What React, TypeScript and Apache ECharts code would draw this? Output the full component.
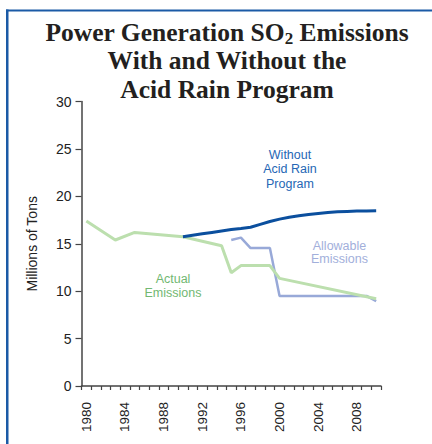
import React, { useEffect, useRef } from "react";
import * as echarts from "echarts";

const years = [
  "1980", "1981", "1982", "1983", "1984", "1985", "1986", "1987", "1988", "1989",
  "1990", "1991", "1992", "1993", "1994", "1995", "1996", "1997", "1998", "1999",
  "2000", "2001", "2002", "2003", "2004", "2005", "2006", "2007", "2008", "2009", "2010",
];

const actualEmissions = [
  17.4, null, null, 15.4, null, 16.2, null, null, null, null,
  15.75, null, null, null, 14.8, 11.95, 12.7, null, null, 12.7,
  11.35, null, null, null, null, null, null, null, null, null, 9.2,
];

const withoutProgram = [
  null, null, null, null, null, null, null, null, null, null,
  15.75, 15.9, 16.05, 16.2, 16.35, 16.5, 16.62, 16.75, 17.05, 17.35,
  17.6, 17.8, 17.95, 18.1, 18.2, 18.3, 18.38, 18.42, 18.45, 18.47, 18.48,
];

const allowableEmissions = [
  null, null, null, null, null, null, null, null, null, null,
  null, null, null, null, null, 15.4, 15.65, 14.55, null, 14.55,
  9.5, null, null, null, null, null, null, null, null, 9.5, 8.95,
];

const yTicks = { min: 0, max: 30, interval: 5 };

export default function App() {
  const ref = useRef<HTMLDivElement>(null);

  useEffect(() => {
    if (!ref.current) return;
    const chart = echarts.init(ref.current, null, { renderer: "svg" });
    const sans = "Liberation Sans";
    const serif = "Liberation Serif";
    chart.setOption({
      animation: false,
      backgroundColor: "#ffffff",
      title: {
        left: 222,
        top: 13,
        textAlign: "center",
        text: "{t|Power Generation SO}{s|2}{t| Emissions}\n{t|With and Without the}\n{t|Acid Rain Program}",
        textStyle: {
          rich: {
            t: {
              fontFamily: serif,
              fontWeight: "bold",
              fontSize: 25.5,
              lineHeight: 28.5,
              color: "#231f20",
            },
            s: {
              fontFamily: serif,
              fontWeight: "bold",
              fontSize: 17,
              lineHeight: 17,
              verticalAlign: "bottom",
              color: "#231f20",
            },
          },
        },
      },
      grid: { left: 81.5, right: 51, top: 101.6, bottom: 58, containLabel: false },
      xAxis: {
        type: "category",
        data: years,
        boundaryGap: true,
        axisLine: { lineStyle: { color: "#444", width: 1.5 } },
        axisTick: { show: true, interval: 0, length: 4, alignWithLabel: false, lineStyle: { color: "#444", width: 1.2 } },
        axisLabel: {
          interval: 3,
          rotate: 90,
          margin: 16,
          fontFamily: sans,
          fontSize: 13.5,
          color: "#222",
        },
        splitLine: { show: false },
      },
      yAxis: {
        type: "value",
        min: yTicks.min,
        max: yTicks.max,
        interval: yTicks.interval,
        name: "Millions of Tons",
        nameLocation: "middle",
        nameRotate: 90,
        nameGap: 43,
        nameTextStyle: { fontFamily: sans, fontSize: 14, color: "#222" },
        axisLine: { show: true, lineStyle: { color: "#444", width: 1.5 } },
        axisTick: { show: true, length: 6, lineStyle: { color: "#444", width: 1.2 } },
        axisLabel: { margin: 10, fontFamily: sans, fontSize: 14, color: "#222" },
        splitLine: { show: false },
      },
      series: [
        {
          name: "Without Acid Rain Program",
          type: "line",
          data: withoutProgram,
          connectNulls: true,
          showSymbol: false,
          symbol: "none",
          lineStyle: { color: "#0b4f9e", width: 3 },
          z: 3,
        },
        {
          name: "Allowable Emissions",
          type: "line",
          data: allowableEmissions,
          connectNulls: true,
          showSymbol: false,
          symbol: "none",
          lineStyle: { color: "#98a9d8", width: 2.5 },
          z: 2,
        },
        {
          name: "Actual Emissions",
          type: "line",
          data: actualEmissions,
          connectNulls: true,
          showSymbol: false,
          symbol: "none",
          lineStyle: { color: "#bcdfae", width: 3 },
          z: 2,
        },
      ],
      graphic: [
        { type: "rect", left: 6, top: 9.5, shape: { width: 2.5, height: 440 }, style: { fill: "#1b5aa6" } },
        { type: "rect", left: 6, top: 9.5, shape: { width: 430, height: 2 }, style: { fill: "#1b5aa6" } },
        {
          type: "text",
          x: 290,
          y: 148,
          style: {
            text: "Without\nAcid Rain\nProgram",
            fontFamily: sans,
            fontSize: 12.5,
            lineHeight: 14.3,
            fill: "#2667b5",
            align: "center",
            verticalAlign: "top",
          },
        },
        {
          type: "text",
          x: 339.5,
          y: 239,
          style: {
            text: "Allowable\nEmissions",
            fontFamily: sans,
            fontSize: 12.5,
            lineHeight: 13.6,
            fill: "#a2afdb",
            align: "center",
            verticalAlign: "top",
          },
        },
        {
          type: "text",
          x: 173,
          y: 272,
          style: {
            text: "Actual\nEmissions",
            fontFamily: sans,
            fontSize: 12.5,
            lineHeight: 14,
            fill: "#72b872",
            align: "center",
            verticalAlign: "top",
          },
        },
      ],
    });
    return () => chart.dispose();
  }, []);

  return (
    <div
      ref={ref}
      style={{ position: "fixed", left: 0, top: 0, width: 432, height: 444 }}
    />
  );
}
